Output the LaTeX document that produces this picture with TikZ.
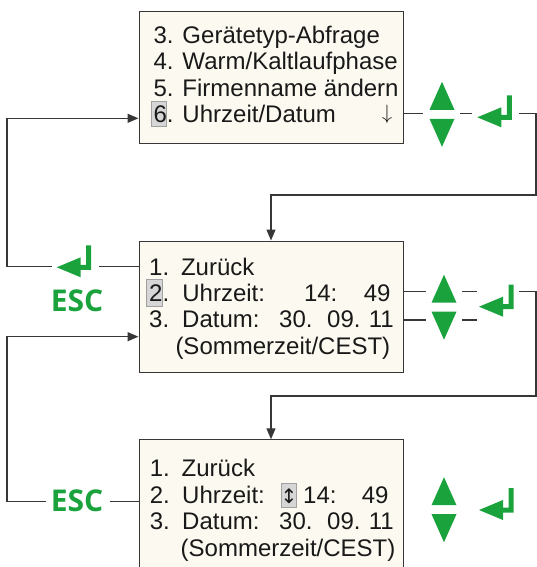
\documentclass[tikz,border=0pt]{standalone}
\usepackage{fontspec}
\setmainfont{Liberation Sans}
\newfontfamily\escfont{Open Sans}
\newfontfamily\symfont{DejaVu Sans}
\usetikzlibrary{arrows.meta}
\definecolor{keygreen}{RGB}{26,163,60}
\definecolor{boxfill}{RGB}{252,250,240}
\definecolor{linegray}{RGB}{55,55,55}
\definecolor{hlfill}{RGB}{214,214,214}
\definecolor{hldraw}{RGB}{160,160,160}
\tikzset{
  panel/.style={draw=linegray, line width=1.1pt, fill=boxfill, anchor=north west,
    minimum width=264.5pt, minimum height=131.5pt, inner sep=0pt},
  txt/.style={anchor=base west, inner sep=0pt, font=\fontsize{24}{28}\selectfont, text=black!90},
  txte/.style={txt, anchor=base east},
  conn/.style={draw=linegray, line width=1.3pt},
  arr/.style={conn, -{Triangle[length=11pt,width=9pt]}},
  hl/.style={fill=hlfill, draw=hldraw, line width=0.8pt},
  esclabel/.style={inner sep=0pt, anchor=base, text=keygreen,
    font=\escfont\bfseries\fontsize{30}{30}\selectfont},
  updown/.pic={
    \fill[keygreen] (-12.5,-4.5) -- (12.5,-4.5) -- (0,-32.5) -- cycle;
    \fill[keygreen] (-12.5,4.5) -- (12.5,4.5) -- (0,32.5) -- cycle;
  },
  enterkey/.pic={
    \fill[keygreen] (0,0) -- (24,-10) -- (24,-2.5) -- (29.5,-2.5) -- (29.5,-22)
      -- (34.5,-22) -- (34.5,2.5) -- (24,2.5) -- (24,10) -- cycle;
  }
}
\begin{document}
\begin{tikzpicture}[x=1pt,y=-1pt]
\useasboundingbox (0,0) rectangle (537,567);
\clip (0,0) rectangle (537,567);

% panels
\node[panel] (top) at (138.5,11) {};
\node[panel] (mid) at (138.5,240.5) {};
\node[panel] (bot) at (138.5,439.3) {};

% highlights
\draw[hl] (151.7,101.7) rectangle (166.7,126.7);
\draw[hl] (146.7,279.3) rectangle (162.3,306.7);
\draw[hl] (281.5,483.3) rectangle (296.6,507.7);

% top panel text
\node[txt] (t1) at (153.4,44) {3. Gerätetyp-Abfrage};
\node[txt] (t2) at (153.4,70) {4. Warm/Kaltlaufphase};
\node[txt] (t3) at (153.4,97) {5. Firmenname ändern};
\node[txt] (t4) at (153.4,122.5) {6. Uhrzeit/Datum};
\node[txt, anchor=south, font=\fontsize{20}{22}\selectfont] (t4a) at (387,124) {$\downarrow$};

% middle panel text
\node[txt] (m1n) at (149,275) {1.};
\node[txt] (m1) at (180.8,275) {Zurück};
\node[txt] (m2n) at (149,301.7) {2.};
\node[txt] (m2) at (182.2,301.7) {Uhrzeit:};
\node[txt] (m2h) at (303.8,301.7) {14:};
\node[txte] (m2m) at (390.7,301.7) {49};
\node[txt] (m3n) at (149,327) {3.};
\node[txt] (m3) at (182,327) {Datum:};
\node[txt] (m3d) at (279,327) {30.};
\node[txt] (m3m) at (327,327) {09.};
\node[txte] (m3y) at (394,327) {11};
\node[txt] (m4) at (175.3,354) {(Sommerzeit/CEST)};

% bottom panel text
\node[txt] (b1n) at (149.7,476) {1.};
\node[txt] (b1) at (181.5,476) {Zurück};
\node[txt] (b2n) at (149.7,503.3) {2.};
\node[txt] (b2) at (182,503.3) {Uhrzeit:};
\node[txt, anchor=base, font=\symfont\fontsize{20}{24}\selectfont] (b2s) at (289,503.3) {↕};
\node[txt] (b2h) at (303,503.3) {14:};
\node[txte] (b2m) at (388.7,503.3) {49};
\node[txt] (b3n) at (149.7,529.5) {3.};
\node[txt] (b3) at (182,529.5) {Datum:};
\node[txt] (b3d) at (279,529.5) {30.};
\node[txt] (b3m) at (327,529.5) {09.};
\node[txte] (b3y) at (394,529.5) {11};
\node[txt] (b4) at (180.5,556) {(Sommerzeit/CEST)};

% green keys
\coordinate (ud1) at (442,114.3);
\coordinate (ud2) at (444,307.2);
\coordinate (ud3) at (444,509.7);
\coordinate (ek1) at (477.3,117.3);
\coordinate (ek2) at (479,306.7);
\coordinate (ek3) at (479,510);
\coordinate (ek0) at (56.7,267.3);
\pic at (ud1) {updown};
\pic at (ud2) {updown};
\pic at (ud3) {updown};
\pic at (ek1) {enterkey};
\pic at (ek2) {enterkey};
\pic at (ek3) {enterkey};
\pic at (ek0) {enterkey};
\node[esclabel] (esc1) at (77,311.7) {ESC};
\node[esclabel] (esc2) at (77,511.7) {ESC};

% connectors: top -> mid
\draw[conn] (top.east |- 0,113.3) -- (423,113.3);
\draw[conn] (460,113.3) -- (472,113.3);
\draw[arr] (519.3,113.3) -- (536,113.3) -- (536,195) -- (271,195) -- (mid.north -| 271,0);

% mid -> bot
\draw[conn] (mid.east |- 0,291.7) -- (426,291.7);
\draw[conn] (462.3,291.7) -- (477.3,291.7);
\draw[conn] (mid.east |- 0,320) -- (426,320);
\draw[conn] (462.3,320) -- (477.3,320);
\draw[arr] (519.3,291.7) -- (536,291.7) -- (536,396) -- (271,396) -- (bot.north -| 271,0);

% mid -> top (enter / ESC)
\draw[conn] (mid.west |- 0,266.7) -- (99.3,266.7);
\draw[arr] (51.7,266.7) -- (7,266.7) -- (7,118.3) -- (top.west |- 0,118.3);

% bot -> mid (ESC)
\draw[conn] (bot.west |- 0,501.7) -- (110,501.7);
\draw[arr] (45.7,501.7) -- (7,501.7) -- (7,336.7) -- (mid.west |- 0,336.7);
\end{tikzpicture}
\end{document}
